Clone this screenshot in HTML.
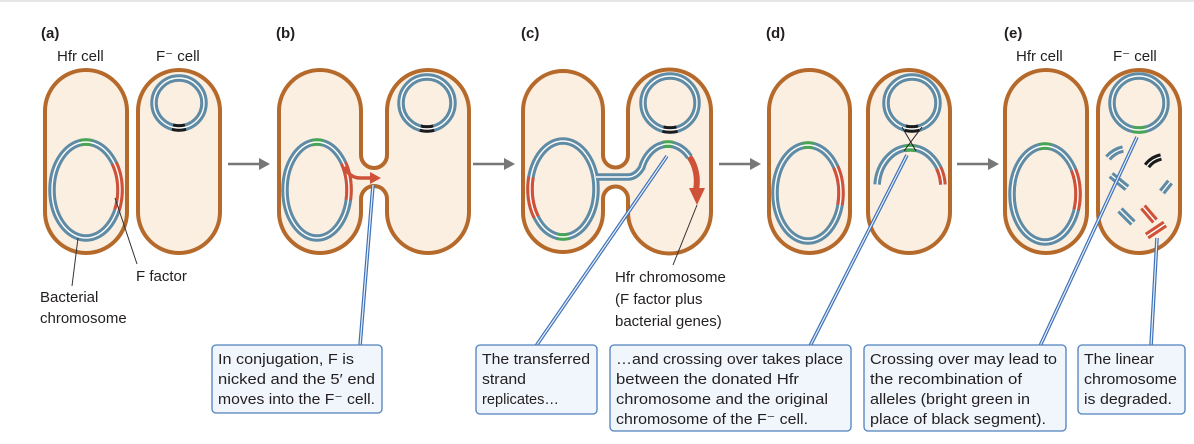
<!DOCTYPE html>
<html><head><meta charset="utf-8"><style>
html,body{margin:0;padding:0;background:#fff;}
svg{display:block;}
text{font-family:"Liberation Sans",sans-serif;fill:#231f20;}
.cell{fill:#fbefe2;stroke:#b5692a;stroke-width:4;}
.cb{fill:none;stroke:#5f8ba5;stroke-width:7.5;}
.cw{fill:none;stroke:#fff;stroke-width:1.4;}
.g{fill:none;stroke:#4aa456;stroke-width:7.5;}
.r{fill:none;stroke:#cf5238;stroke-width:7.5;}
.k{fill:none;stroke:#1b1b1b;stroke-width:7.5;}
.box{fill:#f0f6fc;stroke:#4f80bd;stroke-width:1.3;}
.pb{stroke:#3f72b8;stroke-width:3.6;fill:none;}
.pw{stroke:#e8f0fa;stroke-width:1.2;fill:none;}
.lab{font-size:15px;}
.bt{font-size:15px;}
.hd{font-size:15px;font-weight:bold;}
</style></head><body>
<svg width="1194" height="444" viewBox="0 0 1194 444" xmlns="http://www.w3.org/2000/svg">
<line x1="0" y1="1" x2="1194" y2="1" stroke="#e6e6e6" stroke-width="2"/>

<text x="41" y="38" class="hd">(a)</text>
<text x="276" y="38" class="hd">(b)</text>
<text x="521" y="38" class="hd">(c)</text>
<text x="766" y="38" class="hd">(d)</text>
<text x="1004" y="38" class="hd">(e)</text>
<text x="57" y="61" class="lab">Hfr cell</text>
<text x="156" y="61" class="lab">F⁻ cell</text>
<text x="1016" y="61" class="lab">Hfr cell</text>
<text x="1113" y="61" class="lab">F⁻ cell</text>

<g fill="#777" stroke="#777" stroke-width="2.5">
<line x1="228" y1="164" x2="262" y2="164"/><polygon points="270,164 259,158 259,170" stroke="none"/>
<line x1="473" y1="164" x2="507" y2="164"/><polygon points="515,164 504,158 504,170" stroke="none"/>
<line x1="719" y1="164" x2="753" y2="164"/><polygon points="761,164 750,158 750,170" stroke="none"/>
<line x1="957" y1="164" x2="991" y2="164"/><polygon points="999,164 988,158 988,170" stroke="none"/>
</g>

<!-- (a) -->
<rect class="cell" x="45" y="70" width="82" height="183" rx="41"/>
<rect class="cell" x="138" y="70" width="82" height="183" rx="41"/>
<ellipse class="cb" cx="86" cy="190" rx="34" ry="48"/>
<path class="g" d="M80.1,142.7 A34,48 0 0 1 91.9,142.7"/>
<path class="r" d="M114.2,163 A34,48 0 0 1 116.9,210"/>
<ellipse class="cw" cx="86" cy="190" rx="34" ry="48"/>
<circle class="cb" cx="179" cy="103" r="25"/>
<path class="k" d="M185.5,127.1 A25,25 0 0 1 172.5,127.1"/>
<circle class="cw" cx="179" cy="103" r="25"/>
<line x1="115" y1="198" x2="137" y2="264" stroke="#333" stroke-width="1"/>
<line x1="78" y1="238" x2="72" y2="286" stroke="#333" stroke-width="1"/>
<text x="136" y="281" class="lab">F factor</text>
<text x="40" y="302" class="lab">Bacterial</text>
<text x="40" y="323" class="lab">chromosome</text>

<!-- (b) -->
<path class="cell" d="M279,111 A41,41 0 0 1 361,111 L361,155 A13,13 0 0 0 387,155 L387,111 A41,41 0 0 1 469,111 L469,212 A41,41 0 0 1 387,212 L387,199 A13,13 0 0 0 361,199 L361,212 A41,41 0 0 1 279,212 Z"/>
<ellipse class="cb" cx="317" cy="190" rx="32" ry="48"/>
<path class="g" d="M311.4,142.7 A32,48 0 0 1 322.6,142.7"/>
<path class="r" d="M343.5,163 A32,48 0 0 1 348.3,200"/>
<ellipse class="cw" cx="317" cy="190" rx="32" ry="48"/>
<path d="M344,167 Q350,178 360,178 L372,178" stroke="#cf5238" stroke-width="3.5" fill="none"/>
<polygon points="381,178 370,172 370,184" fill="#cf5238"/>
<circle class="cb" cx="427" cy="103" r="26"/>
<path class="k" d="M433.7,128.1 A26,26 0 0 1 420.3,128.1"/>
<circle class="cw" cx="427" cy="103" r="26"/>

<!-- (c) -->
<path class="cell" d="M523,111 A40,40 0 0 1 603,111 L603,155 A12.5,12.5 0 0 0 628,155 L628,111 A41.5,41.5 0 0 1 711,111 L711,212 A41.5,41.5 0 0 1 628,212 L628,199 A12.5,12.5 0 0 0 603,199 L603,212 A40,40 0 0 1 523,212 Z"/>
<ellipse class="cb" cx="563" cy="189" rx="33" ry="48"/>
<path class="cb" d="M594,177 L628,177 Q636,177 641.7,167.7 A28,36 0 0 1 689.4,156.9"/>
<path class="r" d="M536.2,217 A33,48 0 0 1 531,177"/>
<path class="g" d="M568.7,236.3 A33,48 0 0 1 557.3,236.3"/>
<ellipse class="cw" cx="563" cy="189" rx="33" ry="48"/>
<path class="cw" d="M596,177 L628,177 Q636,177 641.7,167.7 A28,36 0 0 1 689.4,156.9"/>
<path class="g" d="M663.1,144.5 A28,36 0 0 1 672.9,144.5"/>
<path class="cw" d="M663.1,144.5 A28,36 0 0 1 672.9,144.5"/>
<path d="M689.4,156.9 A28,36 0 0 1 696,190" stroke="#cf5238" stroke-width="6" fill="none"/>
<polygon points="697,205 689,188 705,188" fill="#cf5238"/>
<circle class="cb" cx="670" cy="103" r="27"/>
<path class="k" d="M677,129.1 A27,27 0 0 1 663,129.1"/>
<circle class="cw" cx="670" cy="103" r="27"/>
<line x1="697" y1="205" x2="673" y2="265" stroke="#333" stroke-width="1"/>
<text x="615" y="282" class="lab">Hfr chromosome</text>
<text x="615" y="304" class="lab">(F factor plus</text>
<text x="615" y="326" class="lab">bacterial genes)</text>

<!-- (d) -->
<rect class="cell" x="769" y="70" width="81" height="183" rx="40.5"/>
<rect class="cell" x="868" y="70" width="82" height="183" rx="41"/>
<ellipse class="cb" cx="808" cy="193" rx="33" ry="48"/>
<path class="g" d="M802.3,145.7 A33,48 0 0 1 813.7,145.7"/>
<path class="r" d="M835.7,167 A33,48 0 0 1 839.9,205"/>
<ellipse class="cw" cx="808" cy="193" rx="33" ry="48"/>
<circle class="cb" cx="912" cy="103" r="26"/>
<path class="k" d="M918.7,128.1 A26,26 0 0 1 905.3,128.1"/>
<circle class="cw" cx="912" cy="103" r="26"/>
<path class="cb" d="M877.1,184.5 A33,40 0 0 1 942.9,184.5"/>
<path class="g" d="M904.3,148.6 A33,40 0 0 1 915.7,148.6"/>
<path class="r" d="M938.6,168 A33,40 0 0 1 942.9,184.5"/>
<path class="cw" d="M877.1,184.5 A33,40 0 0 1 942.9,184.5"/>
<line x1="902" y1="127" x2="916" y2="151" stroke="#222" stroke-width="1"/>
<line x1="922" y1="127" x2="904" y2="151" stroke="#222" stroke-width="1"/>

<!-- (e) -->
<rect class="cell" x="1005" y="70" width="82" height="183" rx="41"/>
<rect class="cell" x="1098" y="70" width="82" height="183" rx="41"/>
<ellipse class="cb" cx="1045" cy="194" rx="33" ry="48"/>
<path class="g" d="M1039.3,146.7 A33,48 0 0 1 1050.7,146.7"/>
<path class="r" d="M1073.6,170 A33,48 0 0 1 1076.1,210"/>
<ellipse class="cw" cx="1045" cy="194" rx="33" ry="48"/>
<circle class="cb" cx="1139" cy="103" r="27"/>
<path class="g" d="M1146,129.1 A27,27 0 0 1 1132,129.1"/>
<circle class="cw" cx="1139" cy="103" r="27"/>
<g stroke-linecap="butt">
<path class="cb" d="M1108,158 Q1114,151 1123,149"/><path class="cw" d="M1108,158 Q1114,151 1123,149"/>
<path class="k" d="M1147,166 Q1152,159 1161,157"/><path class="cw" d="M1147,166 Q1152,159 1161,157"/>
<path class="cb" d="M1111,175 L1127,188"/><path class="cw" d="M1111,175 L1127,188"/>
<path class="cb" d="M1162,192 L1170,182"/><path class="cw" d="M1162,192 L1170,182"/>
<path class="cb" d="M1120,210 L1133,223"/><path class="cw" d="M1120,210 L1133,223"/>
<path class="r" d="M1143,207 L1155,221"/><path class="cw" d="M1143,207 L1155,221"/>
<path class="r" d="M1147,236 L1165,224"/><path class="cw" d="M1147,236 L1165,224"/>
</g>

<g>
<line class="pb" x1="360" y1="346" x2="373" y2="185"/><line class="pw" x1="360" y1="346" x2="373" y2="185"/>
<line class="pb" x1="536" y1="346" x2="667" y2="156"/><line class="pw" x1="536" y1="346" x2="667" y2="156"/>
<line class="pb" x1="810" y1="346" x2="907" y2="155"/><line class="pw" x1="810" y1="346" x2="907" y2="155"/>
<line class="pb" x1="1040" y1="346" x2="1137" y2="137"/><line class="pw" x1="1040" y1="346" x2="1137" y2="137"/>
<line class="pb" x1="1151" y1="346" x2="1157" y2="238"/><line class="pw" x1="1151" y1="346" x2="1157" y2="238"/>
</g>

<rect class="box" x="212" y="345" width="170" height="68" rx="4"/>
<text x="218" y="364" class="bt" textLength="136" lengthAdjust="spacingAndGlyphs">In conjugation, F is</text>
<text x="218" y="384" class="bt" textLength="157" lengthAdjust="spacingAndGlyphs">nicked and the 5′ end</text>
<text x="218" y="404" class="bt" textLength="157" lengthAdjust="spacingAndGlyphs">moves into the F⁻ cell.</text>

<rect class="box" x="476" y="345" width="121" height="69" rx="4"/>
<text x="482" y="364" class="bt" textLength="108" lengthAdjust="spacingAndGlyphs">The transferred</text>
<text x="482" y="384" class="bt" textLength="44" lengthAdjust="spacingAndGlyphs">strand</text>
<text x="482" y="404" class="bt" textLength="77" lengthAdjust="spacingAndGlyphs">replicates…</text>

<rect class="box" x="610" y="345" width="241" height="86" rx="4"/>
<text x="616" y="364" class="bt" textLength="227" lengthAdjust="spacingAndGlyphs">…and crossing over takes place</text>
<text x="616" y="384" class="bt" textLength="183" lengthAdjust="spacingAndGlyphs">between the donated Hfr</text>
<text x="616" y="404" class="bt" textLength="212" lengthAdjust="spacingAndGlyphs">chromosome and the original</text>
<text x="616" y="424" class="bt" textLength="192" lengthAdjust="spacingAndGlyphs">chromosome of the F⁻ cell.</text>

<rect class="box" x="864" y="345" width="202" height="86" rx="4"/>
<text x="870" y="364" class="bt" textLength="187" lengthAdjust="spacingAndGlyphs">Crossing over may lead to</text>
<text x="870" y="384" class="bt" textLength="152" lengthAdjust="spacingAndGlyphs">the recombination of</text>
<text x="870" y="404" class="bt" textLength="160" lengthAdjust="spacingAndGlyphs">alleles (bright green in</text>
<text x="870" y="424" class="bt" textLength="176" lengthAdjust="spacingAndGlyphs">place of black segment).</text>

<rect class="box" x="1078" y="345" width="107" height="69" rx="4"/>
<text x="1084" y="364" class="bt" textLength="70" lengthAdjust="spacingAndGlyphs">The linear</text>
<text x="1084" y="384" class="bt" textLength="93" lengthAdjust="spacingAndGlyphs">chromosome</text>
<text x="1084" y="404" class="bt" textLength="88" lengthAdjust="spacingAndGlyphs">is degraded.</text>
</svg>
</body></html>
